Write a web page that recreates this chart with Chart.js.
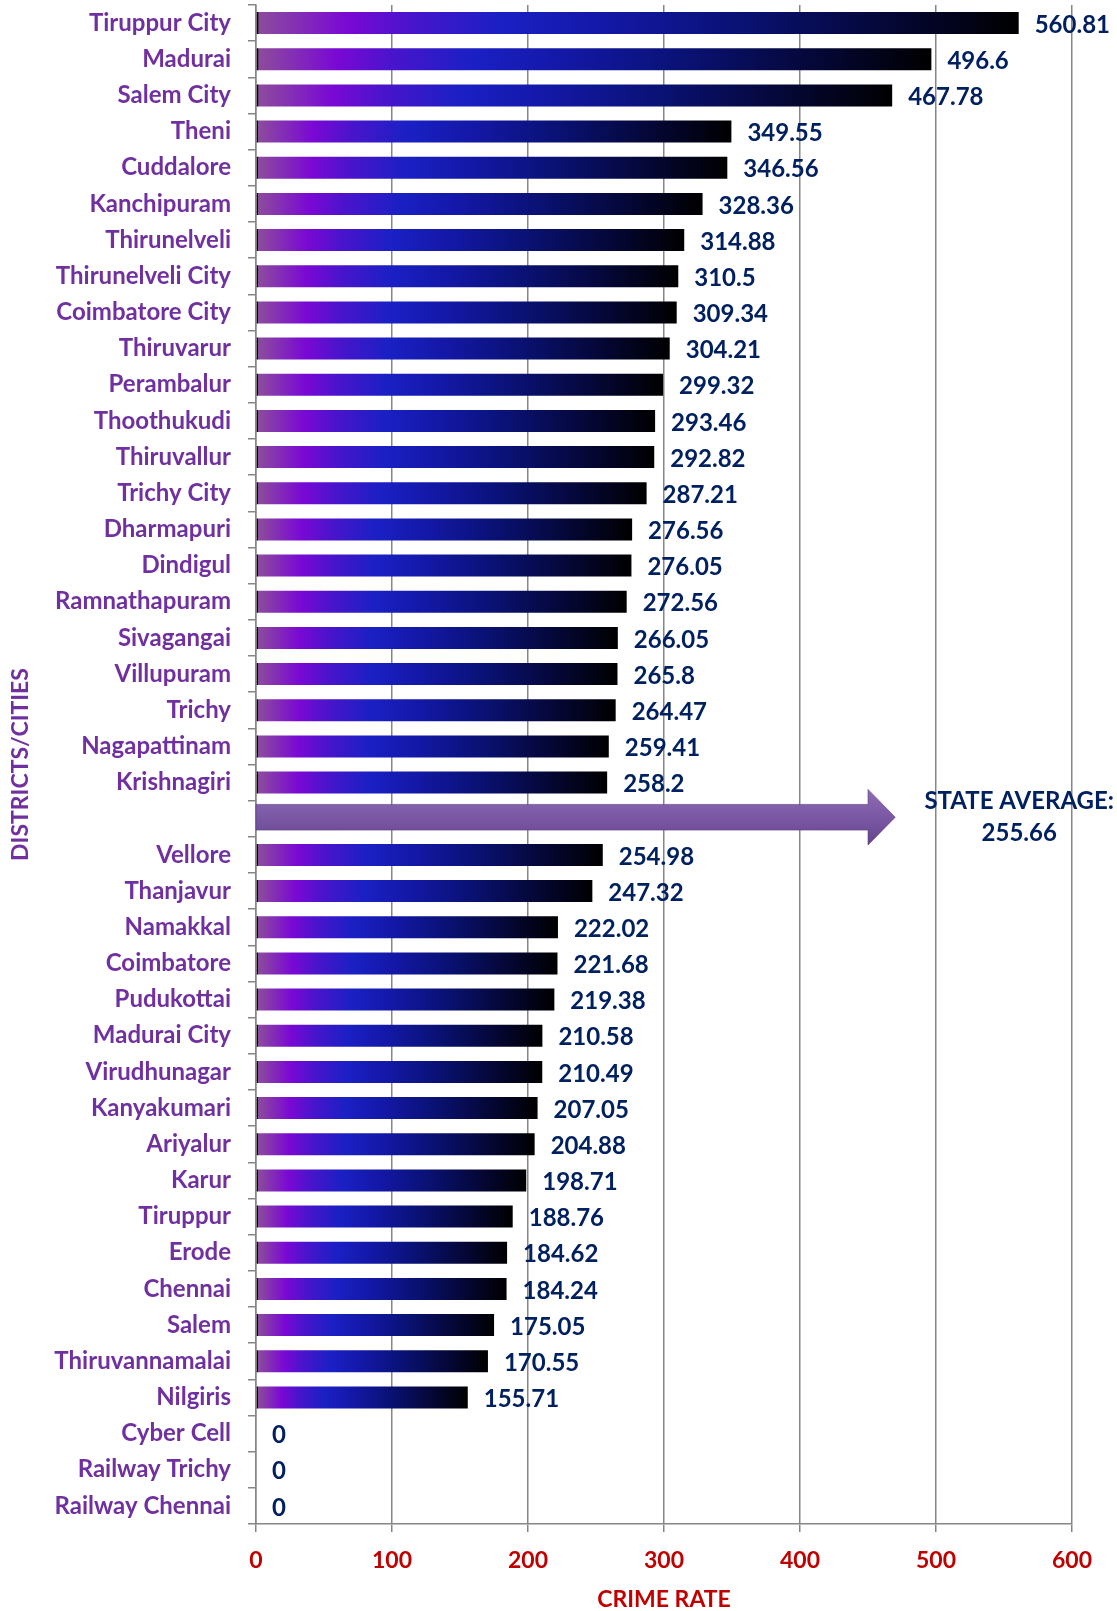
<!DOCTYPE html>
<html>
<head>
<meta charset="utf-8">
<title>Crime Rate by District / City</title>
<script src="https://cdn.jsdelivr.net/npm/chart.js@4"></script>
<style>
  html, body { margin: 0; padding: 0; background: #fff; }
  canvas { display: block; }
</style>
</head>
<body>
<canvas id="crimeChart" width="1117" height="1611"></canvas>
<script>
// ── Data ────────────────────────────────────────────────────────
const districts = [
  'Tiruppur City', 'Madurai', 'Salem City', 'Theni', 'Cuddalore', 'Kanchipuram',
  'Thirunelveli', 'Thirunelveli City', 'Coimbatore City', 'Thiruvarur', 'Perambalur',
  'Thoothukudi', 'Thiruvallur', 'Trichy City', 'Dharmapuri', 'Dindigul',
  'Ramnathapuram', 'Sivagangai', 'Villupuram', 'Trichy', 'Nagapattinam', 'Krishnagiri',
  '',
  'Vellore', 'Thanjavur', 'Namakkal', 'Coimbatore', 'Pudukottai', 'Madurai City',
  'Virudhunagar', 'Kanyakumari', 'Ariyalur', 'Karur', 'Tiruppur', 'Erode', 'Chennai',
  'Salem', 'Thiruvannamalai', 'Nilgiris', 'Cyber Cell', 'Railway Trichy', 'Railway Chennai'
];

const crimeRates = [
  560.81, 496.6, 467.78, 349.55, 346.56, 328.36,
  314.88, 310.5, 309.34, 304.21, 299.32,
  293.46, 292.82, 287.21, 276.56, 276.05,
  272.56, 266.05, 265.8, 264.47, 259.41, 258.2,
  255.66,
  254.98, 247.32, 222.02, 221.68, 219.38, 210.58,
  210.49, 207.05, 204.88, 198.71, 188.76, 184.62, 184.24,
  175.05, 170.55, 155.71, 0, 0, 0
];

const xTicks = [0, 100, 200, 300, 400, 500, 600];

// state average row and the arrow pointing at its caption
const avgIndex = 22;
const avgLabel = 'STATE AVERAGE:';
const arrowShaftEnd = 450;
const arrowTip = 470;

// ── Styling ─────────────────────────────────────────────────────
const FONT = 'Lato, "Open Sans", sans-serif';
const PURPLE = '#7030A0';
const NAVY = '#002060';
const RED = '#C00000';
const GRID = '#868686';

function barGradient(ctx) {
  const chart = ctx.chart;
  const xs = chart.scales && chart.scales.x;
  if (!xs || !chart.chartArea) return '#1A1EC4';
  const v = ctx.raw || 0;
  const x0 = xs.getPixelForValue(0);
  const x1 = xs.getPixelForValue(v);
  const len = Math.max(x1 - x0, 1);
  const g = chart.ctx.createLinearGradient(x0, 0, x1, 0);
  const edge = Math.min(2 / len, 0.05);
  g.addColorStop(0, '#000000');
  g.addColorStop(edge, '#000000');
  g.addColorStop(Math.min(edge + 0.001, 0.06), '#8C4C9C');
  g.addColorStop(0.12, '#7A08D4');
  g.addColorStop(0.2, '#4A14CC');
  g.addColorStop(0.32, '#1A20C4');
  g.addColorStop(0.45, '#1418A8');
  g.addColorStop(0.62, '#0A1278');
  g.addColorStop(0.85, '#040630');
  g.addColorStop(1, '#000000');
  return g;
}

// value captions to the right of each bar
const valueLabels = {
  id: 'valueLabels',
  afterDatasetsDraw(chart) {
    const { ctx } = chart;
    const meta = chart.getDatasetMeta(0);
    ctx.save();
    ctx.font = 'bold 24px ' + FONT;
    ctx.fillStyle = NAVY;
    ctx.textAlign = 'left';
    ctx.textBaseline = 'middle';
    meta.data.forEach((bar, i) => {
      if (i === avgIndex) return;
      ctx.fillText(String(crimeRates[i]), bar.x + 16, bar.y + 2);
    });
    ctx.restore();
  }
};

// arrow over the state average row with its caption
const avgArrow = {
  id: 'avgArrow',
  afterDatasetsDraw(chart) {
    const { ctx } = chart;
    const xs = chart.scales.x, ys = chart.scales.y;
    const row = ys.getPixelForValue(1) - ys.getPixelForValue(0);
    const cy = ys.getPixelForValue(avgIndex) - 1.5;
    const x0 = xs.getPixelForValue(0);
    const xb = xs.getPixelForValue(arrowShaftEnd);
    const xt = xs.getPixelForValue(arrowTip);
    const sh = row * 0.355, hh = row * 0.77;

    ctx.save();
    const g = ctx.createLinearGradient(0, cy - hh, 0, cy + hh);
    g.addColorStop(0, '#8E6BB4');
    g.addColorStop(0.5, '#7B58A4');
    g.addColorStop(1, '#64448C');
    ctx.beginPath();
    ctx.moveTo(x0, cy - sh);
    ctx.lineTo(xb, cy - sh);
    ctx.lineTo(xb, cy - hh);
    ctx.lineTo(xt, cy);
    ctx.lineTo(xb, cy + hh);
    ctx.lineTo(xb, cy + sh);
    ctx.lineTo(x0, cy + sh);
    ctx.closePath();
    ctx.fillStyle = g;
    ctx.fill();
    ctx.strokeStyle = 'rgba(90,60,130,0.6)';
    ctx.lineWidth = 1;
    ctx.stroke();

    // caption
    const tx = xt + 124;
    ctx.font = 'bold 24px ' + FONT;
    ctx.fillStyle = NAVY;
    ctx.textAlign = 'center';
    ctx.textBaseline = 'middle';
    ctx.fillText(avgLabel, tx, cy - 16);
    ctx.fillText(crimeRates[avgIndex].toFixed(2), tx, cy + 16);
    ctx.restore();
  }
};

// ── Chart ───────────────────────────────────────────────────────
new Chart(document.getElementById('crimeChart').getContext('2d'), {
  type: 'bar',
  data: {
    labels: districts,
    datasets: [{
      label: 'Crime Rate',
      data: crimeRates,
      backgroundColor: barGradient,
      borderWidth: 0,
      barPercentage: 0.61,
      categoryPercentage: 1
    }]
  },
  options: {
    indexAxis: 'y',
    responsive: false,
    animation: false,
    layout: { padding: { top: 5, right: 45, left: 0, bottom: 0 } },
    plugins: {
      legend: { display: false },
      tooltip: { enabled: false }
    },
    scales: {
      x: {
        min: xTicks[0],
        max: xTicks[xTicks.length - 1],
        afterBuildTicks: s => { s.ticks = xTicks.map(v => ({ value: v })); },
        ticks: {
          color: RED,
          font: { family: FONT, size: 23, weight: 'bold' },
          padding: 15
        },
        grid: { color: GRID, lineWidth: 1.5, tickLength: 8 },
        border: { color: GRID, width: 1.5 },
        title: {
          display: true,
          text: 'CRIME RATE',
          color: RED,
          font: { family: FONT, size: 23, weight: 'bold' },
          padding: { top: 0, bottom: -2 }
        },
        afterFit: s => { s.height = 87; }
      },
      y: {
        ticks: {
          color: PURPLE,
          font: { family: FONT, size: 24, weight: 'bold' },
          padding: 17,
          autoSkip: false
        },
        grid: {
          drawOnChartArea: false,
          offset: true,
          color: GRID,
          lineWidth: 1.5,
          tickLength: 8
        },
        border: { color: GRID, width: 1.5 },
        title: {
          display: true,
          text: 'DISTRICTS/CITIES',
          color: PURPLE,
          font: { family: FONT, size: 23, weight: 'bold' },
          padding: { top: 7, bottom: 0 }
        },
        afterFit: s => {
          s.width = 256;
          s.paddingTop = 0;
          s.paddingBottom = 0;
        }
      }
    }
  },
  plugins: [avgArrow, valueLabels]
});
</script>
</body>
</html>
